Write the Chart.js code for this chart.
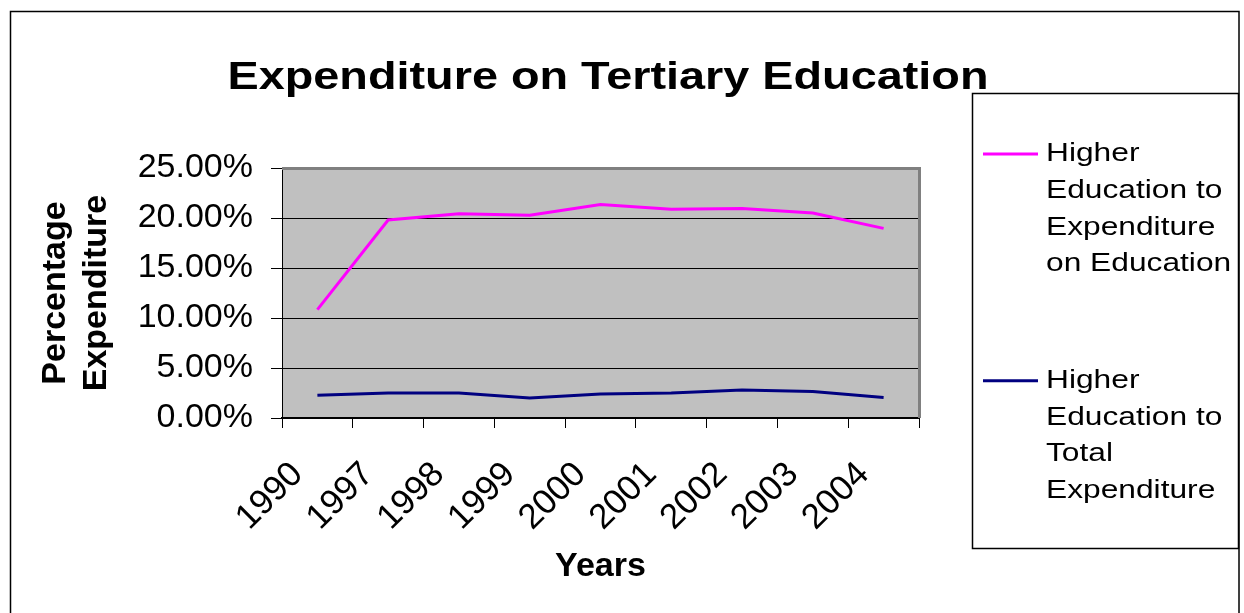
<!DOCTYPE html>
<html>
<head>
<meta charset="utf-8">
<title>Expenditure on Tertiary Education</title>
<script src="https://cdn.jsdelivr.net/npm/chart.js@4.4.1/dist/chart.umd.min.js"></script>
<style>
  html, body { margin: 0; padding: 0; background: #fff; }
  #wrap { width: 1244px; height: 613px; }
</style>
</head>
<body>
<div id="wrap"><canvas id="eduChart" width="1244" height="613"></canvas></div>
<script>
// chart data (values in %)
const years = ['1990', '1997', '1998', '1999', '2000', '2001', '2002', '2003', '2004'];
const higherToEducation = [10.84, 19.8, 20.43, 20.27, 21.34, 20.87, 20.94, 20.5, 18.96];
const higherToTotal = [2.27, 2.51, 2.51, 2.0, 2.41, 2.51, 2.81, 2.64, 2.04];
const yTicks = [0, 5, 10, 15, 20, 25];

const chartTitle = 'Expenditure on Tertiary Education';
const FONT = '"Liberation Sans", Arial, Helvetica, sans-serif';

Chart.defaults.font.family = FONT;
Chart.defaults.color = '#000';

// grey plot background + white page
const backgroundPlugin = {
    id: 'plotBackground',
    beforeDraw(chart) {
        const { ctx, chartArea: a } = chart;
        ctx.save();
        ctx.fillStyle = '#fff';
        ctx.fillRect(0, 0, chart.width, chart.height);
        ctx.fillStyle = '#c0c0c0';
        ctx.fillRect(a.left, a.top, a.right - a.left, a.bottom - a.top);
        ctx.restore();
    }
};

// word wrap helper for the legend text
function wrapText(ctx, text, maxWidth) {
    const words = text.split(' ');
    const lines = [];
    let line = '';
    words.forEach(w => {
        const test = line ? line + ' ' + w : w;
        if (line && ctx.measureText(test).width > maxWidth) {
            lines.push(line);
            line = w;
        } else {
            line = test;
        }
    });
    if (line) lines.push(line);
    return lines;
}

// title, plot frame, outer border and boxed legend (Excel look)
const decorPlugin = {
    id: 'excelDecor',
    afterDraw(chart) {
        const { ctx, chartArea: a } = chart;
        ctx.save();

        // plot frame top + right (grey)
        ctx.strokeStyle = '#808080';
        ctx.lineWidth = 3;
        ctx.beginPath();
        ctx.moveTo(a.left, a.top + 0.5);
        ctx.lineTo(a.right + 0.5, a.top + 0.5);
        ctx.lineTo(a.right + 0.5, a.bottom);
        ctx.stroke();

        // outer chart border
        ctx.strokeStyle = '#000';
        ctx.lineWidth = 1.5;
        ctx.strokeRect(10.5, 11.5, 1228.5, 700);

        // title (stretched a bit horizontally, like the original)
        ctx.fillStyle = '#000';
        ctx.font = 'bold 39px ' + FONT;
        ctx.textAlign = 'center';
        ctx.textBaseline = 'alphabetic';
        ctx.save();
        ctx.translate(608, 89);
        ctx.scale(1.2, 1);
        ctx.fillText(chartTitle, 0, 0);
        ctx.restore();

        // legend box
        ctx.fillStyle = '#fff';
        ctx.fillRect(972, 93, 266, 455);
        ctx.strokeStyle = '#000';
        ctx.lineWidth = 1.5;
        ctx.strokeRect(972.5, 93.5, 266, 455);

        const sx = 1.22;
        const lh = 36.7;
        ctx.font = '26px ' + FONT;
        ctx.textAlign = 'left';
        ctx.textBaseline = 'middle';
        let y = 154;
        chart.data.datasets.forEach(ds => {
            ctx.strokeStyle = ds.borderColor;
            ctx.lineWidth = 3;
            ctx.beginPath();
            ctx.moveTo(983, y);
            ctx.lineTo(1038, y);
            ctx.stroke();

            const lines = wrapText(ctx, ds.label, 195 / sx);
            ctx.fillStyle = '#000';
            lines.forEach((ln, i) => {
                ctx.save();
                ctx.translate(1046, y + i * lh);
                ctx.scale(sx, 1);
                ctx.fillText(ln, 0, 0);
                ctx.restore();
            });
            y += lines.length * lh + 80;
        });

        ctx.restore();
    }
};

const ctx = document.getElementById('eduChart').getContext('2d');
const eduChart = new Chart(ctx, {
    type: 'line',
    data: {
        labels: years,
        datasets: [{
            label: 'Higher Education to Expenditure on Education',
            data: higherToEducation,
            borderColor: '#ff00ff',
            backgroundColor: '#ff00ff',
            borderWidth: 3,
            pointRadius: 0,
            tension: 0,
            fill: false
        }, {
            label: 'Higher Education to Total Expenditure',
            data: higherToTotal,
            borderColor: '#000080',
            backgroundColor: '#000080',
            borderWidth: 3,
            pointRadius: 0,
            tension: 0,
            fill: false
        }]
    },
    options: {
        responsive: false,
        animation: false,
        devicePixelRatio: 1,
        layout: {
            padding: { left: 0, right: 325, top: 168, bottom: 0 }
        },
        scales: {
            x: {
                type: 'category',
                offset: true,
                grid: {
                    offset: true,
                    drawOnChartArea: false,
                    drawTicks: true,
                    tickLength: 10,
                    color: '#000',
                    tickColor: '#000'
                },
                border: { display: true, color: '#000', width: 2 },
                ticks: {
                    autoSkip: false,
                    minRotation: 45,
                    maxRotation: 45,
                    padding: 26,
                    labelOffset: -20,
                    font: { size: 35 }
                },
                title: {
                    display: true,
                    text: 'Years',
                    font: { size: 34, weight: 'bold' },
                    padding: { top: 0, bottom: 26 }
                },
                afterFit(scale) { scale.height = 195; }
            },
            y: {
                min: 0,
                max: 25,
                afterBuildTicks(scale) {
                    scale.ticks = yTicks.map(v => ({ value: v }));
                },
                grid: {
                    color: c => (c.tick && c.tick.value === 25 ? 'rgba(0,0,0,0)' : '#000'),
                    tickColor: '#000',
                    lineWidth: 1,
                    tickLength: 11
                },
                border: { display: true, color: '#000', width: 1 },
                ticks: {
                    padding: 18,
                    font: { size: 34 },
                    callback: v => v.toFixed(2) + '%'
                },
                title: {
                    display: true,
                    text: ['Percentage', 'Expenditure'],
                    font: { size: 34, weight: 'bold' },
                    padding: { top: 35, bottom: 0 }
                },
                afterFit(scale) { scale.width = 282; }
            }
        },
        plugins: {
            legend: { display: false },
            title: { display: false },
            tooltip: { enabled: false }
        }
    },
    plugins: [backgroundPlugin, decorPlugin]
});
</script>
</body>
</html>
